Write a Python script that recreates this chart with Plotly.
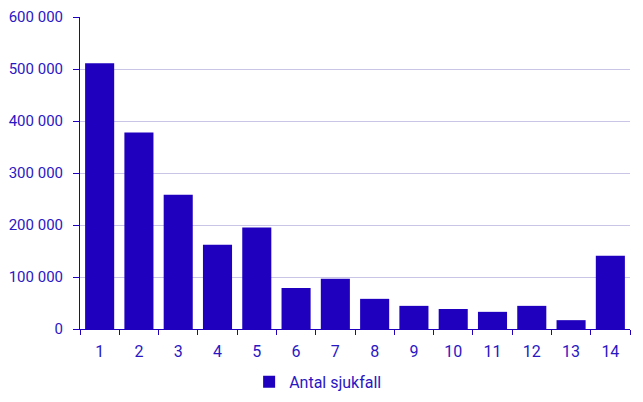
import plotly.graph_objects as go

categories = ["1", "2", "3", "4", "5", "6", "7", "8", "9", "10", "11", "12", "13", "14"]
antal_sjukfall = [511000, 378000, 258000, 162000, 195000, 79000, 96500, 58000, 44500, 38500, 33000, 44500, 17000, 141000]
y_ticks = [0, 100000, 200000, 300000, 400000, 500000, 600000]
y_tick_labels = ["0", "100 000", "200 000", "300 000", "400 000", "500 000", "600 000"]

BLUE = "#1e00be"
TEXT = "#2a17c4"

fig = go.Figure()
fig.add_trace(go.Bar(x=categories, y=antal_sjukfall, name="Antal sjukfall",
                     marker=dict(color=BLUE, line=dict(width=0))))

fig.update_layout(
    width=643, height=402,
    margin=dict(l=72, r=21, t=9, b=81, autoexpand=False),
    paper_bgcolor="white", plot_bgcolor="white",
    font=dict(family="Roboto", size=15, color=TEXT),
    bargap=0.26,
    showlegend=True,
    legend=dict(orientation="h", x=0.375, xanchor="left", xref="container",
                y=0.07, yanchor="middle", yref="container",
                font=dict(size=16, color=TEXT)),
    xaxis=dict(type="category", tickson="boundaries", ticks="outside", ticklen=5,
               tickcolor=BLUE, showline=True, linecolor=BLUE, linewidth=1,
               showgrid=False, ticklabelstandoff=8, ticklabeloverflow="allow",
               tickfont=dict(size=16, color=TEXT)),
    yaxis=dict(range=[0, 600000], tickvals=y_ticks, ticktext=y_tick_labels,
               ticks="outside", ticklen=6, tickcolor=BLUE, showline=True,
               linecolor=BLUE, linewidth=1, showgrid=True, gridcolor="#c9c5e6",
               gridwidth=1, zeroline=False, ticklabelstandoff=7,
               ticklabeloverflow="allow", tickfont=dict(size=15, color=TEXT)),
)

fig.write_html("out.html")
